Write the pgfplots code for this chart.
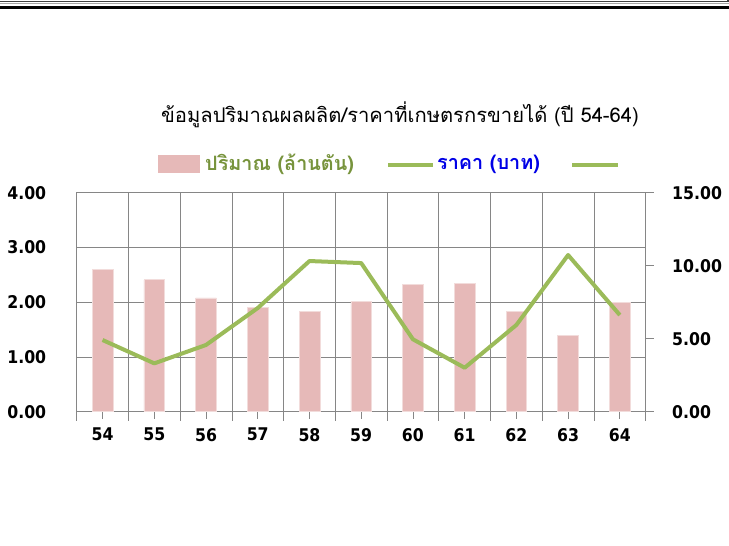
\documentclass[border=0pt]{standalone}
\usepackage{fontspec}
\setmainfont{DejaVu Sans}
\newfontfamily\numfont{DejaVu Sans Condensed}
\newfontfamily\thaifont[Script=Thai]{Loma}
\usepackage{pgfplots}
\pgfplotsset{compat=1.18}
\definecolor{barpink}{RGB}{230,185,184}
\definecolor{baredge}{RGB}{242,220,219}
\definecolor{linegreen}{RGB}{155,187,89}
\definecolor{legendgreen}{RGB}{119,147,60}
\definecolor{legendblue}{RGB}{0,0,230}
\definecolor{gridgray}{RGB}{134,134,134}
\begin{document}
\begin{tikzpicture}[x=1pt,y=1pt]
\useasboundingbox (0,0) rectangle (729,546);
% decorative rules at the top
\draw[line width=1.2pt, black!75] (0,544.6) -- (728,544.6) -- (728,546);
\draw[line width=0.8pt, black!35] (0,542.6) -- (729,542.6);
\draw[line width=3.6pt, black] (0,538.4) -- (729,538.4);
% first axis: bars
\begin{axis}[
  at={(76.7pt,134.3pt)}, anchor=south west,
  width=569pt, height=219pt, scale only axis,
  xmin=-0.5, xmax=10.5, ymin=0, ymax=4,
  xtick={0,...,10}, xticklabels={54,55,56,57,58,59,60,61,62,63,64},
  minor xtick={-0.5,0.5,...,10.5},
  xminorgrids, ymajorgrids,
  grid style={gridgray, line width=0.7pt},
  minor grid style={gridgray, line width=0.7pt},
  axis line style={gridgray, line width=0.7pt},
  ytick={0,1,2,3,4},
  yticklabel style={/pgf/number format/fixed, /pgf/number format/fixed zerofill, /pgf/number format/precision=2},
  /pgf/number format/assume math mode=true,
  ticklabel style={font=\numfont\bfseries\fontsize{17.5}{17.5}\selectfont, text=black},
  ytick style={draw=none},
  xtick pos=bottom, ytick pos=left,
  xtick align=outside,
  major tick length=7pt, minor tick length=9pt,
  tick style={gridgray, line width=0.7pt},
  yticklabel style={anchor=east, xshift=-27pt},
  xticklabel style={anchor=north, yshift=-6pt},
  clip=false,
]
\addplot[ybar, bar width=20.7pt, fill=barpink, draw=baredge, line width=0.6pt] coordinates {
(0,2.60) (1,2.41) (2,2.08) (3,1.91) (4,1.83) (5,2.02) (6,2.33) (7,2.35) (8,1.83) (9,1.40) (10,1.99)
};
\end{axis}
% second axis: price line
\begin{axis}[
  at={(76.7pt,134.3pt)}, anchor=south west,
  width=569pt, height=219pt, scale only axis,
  xmin=-0.5, xmax=10.5, ymin=0, ymax=15,
  axis x line=none, axis y line*=right,
  ytick={0,5,10,15},
  yticklabel style={/pgf/number format/fixed, /pgf/number format/fixed zerofill, /pgf/number format/precision=2, anchor=west, xshift=15pt},
  /pgf/number format/assume math mode=true,
  ticklabel style={font=\numfont\bfseries\fontsize{17.5}{17.5}\selectfont, text=black},
  axis line style={gridgray, line width=0.7pt},
  tick style={gridgray, line width=0.7pt},
  ytick align=outside, major tick length=8pt,
  clip=false,
]
\addplot[linegreen, line width=4pt, line join=round] coordinates {
(0,4.91) (1,3.31) (2,4.57) (3,7.10) (4,10.32) (5,10.18) (6,4.96) (7,3.01) (8,5.94) (9,10.73) (10,6.62)
};
\end{axis}
% title
\node[anchor=base, inner sep=0pt] at (400,423) {\thaifont\fontsize{20.2}{20.2}\selectfont ข้อมูลปริมาณผลผลิต/ราคาที่เกษตรกรขายได้ (ปี 54-64)};
% legend
\fill[barpink] (158,373.3) rectangle (200,391);
\node[anchor=west, inner sep=0pt, text=legendgreen] at (205,382) {\thaifont\bfseries\fontsize{19.8}{19.8}\selectfont ปริมาณ (ล้านตัน)};
\draw[linegreen, line width=4pt] (388,381) -- (433,381);
\node[anchor=west, inner sep=0pt, text=legendblue] at (437,382) {\thaifont\bfseries\fontsize{19.8}{19.8}\selectfont ราคา (บาท)};
\draw[linegreen, line width=4pt] (572,381) -- (618,381);
\end{tikzpicture}
\end{document}
